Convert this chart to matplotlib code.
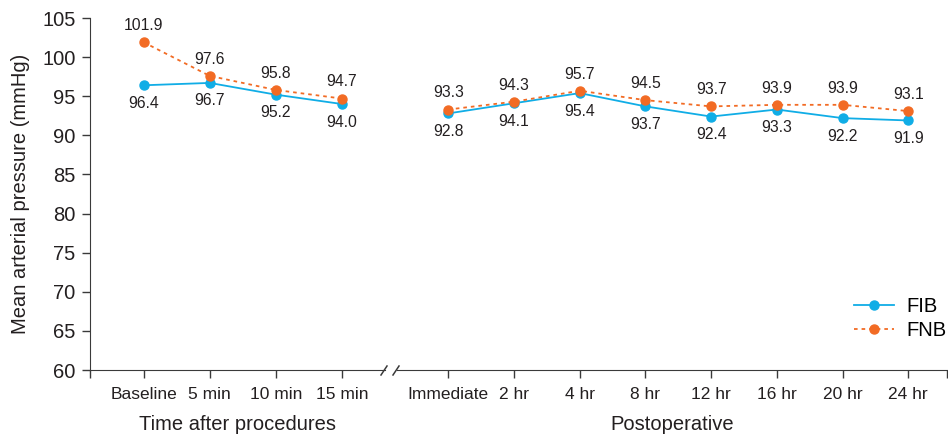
import matplotlib
matplotlib.use("Agg")
import matplotlib.pyplot as plt
from matplotlib.lines import Line2D

plt.rcParams['font.family'] = ['Liberation Sans', 'DejaVu Sans']

# data
left_labels = ["Baseline", "5 min", "10 min", "15 min"]
right_labels = ["Immediate", "2 hr", "4 hr", "8 hr", "12 hr", "16 hr", "20 hr", "24 hr"]
fib_left = [96.4, 96.7, 95.2, 94.0]
fnb_left = [101.9, 97.6, 95.8, 94.7]
fib_right = [92.8, 94.1, 95.4, 93.7, 92.4, 93.3, 92.2, 91.9]
fnb_right = [93.3, 94.3, 95.7, 94.5, 93.7, 93.9, 93.9, 93.1]

fib_color = "#10ADE6"
fnb_color = "#F26B24"
text_color = "#231F20"
W, H = 948, 437

fig = plt.figure(figsize=(W / 100, H / 100), dpi=100)
ax1 = fig.add_axes([90 / W, 1 - 370 / H, 295 / W, 352 / H])
ax2 = fig.add_axes([397 / W, 1 - 370 / H, 550 / W, 352 / H])


def draw(ax, labels, fib, fnb, xlim, edge_ticks):
    x = list(range(len(labels)))
    ax.plot(x, fib, color=fib_color, lw=1.3, marker='o', ms=6.5, label="FIB", zorder=3)
    ax.plot(x, fnb, color=fnb_color, lw=1.3, ls=(0, (2, 2.2)), marker='o', ms=6.5, label="FNB", zorder=4)
    for xi, a, b in zip(x, fib, fnb):
        ax.annotate(f"{a:.1f}", (xi, a), xytext=(0, -13), textcoords='offset points',
                    ha='center', va='center', fontsize=11.3, color=text_color)
        ax.annotate(f"{b:.1f}", (xi, b), xytext=(0, 12), textcoords='offset points',
                    ha='center', va='center', fontsize=11.3, color=text_color)
    ax.set_xlim(*xlim)
    ax.set_ylim(60, 105)
    ax.set_xticks(x)
    ax.set_xticklabels(labels)
    ax.set_xticks(edge_ticks, minor=True)
    ax.tick_params(axis='x', which='both', direction='out', length=5.5, width=1,
                   color='#3a3a3a', labelsize=12.5, labelcolor=text_color, pad=7)
    for s in ['top', 'right']:
        ax.spines[s].set_visible(False)
    ax.spines['bottom'].set_color('#3a3a3a')
    ax.spines['left'].set_color('#3a3a3a')


draw(ax1, left_labels, fib_left, fnb_left, (-0.81, 3.65), [-0.81])
draw(ax2, right_labels, fib_right, fnb_right, (-0.78, 7.59), [7.59])

ax1.set_yticks(range(60, 106, 5))
ax1.tick_params(axis='y', direction='out', length=5.5, width=1, color='#3a3a3a',
                labelsize=14.5, labelcolor=text_color, pad=5)
ax1.set_ylabel("Mean arterial pressure (mmHg)", fontsize=14.5, color=text_color, labelpad=9)
ax1.set_xlabel("Time after procedures", fontsize=14.5, color=text_color, labelpad=9)

ax2.spines['left'].set_visible(False)
ax2.tick_params(axis='y', left=False, labelleft=False)
ax2.set_xlabel("Postoperative", fontsize=14.5, color=text_color, labelpad=9)

ax2.legend(loc='lower right', bbox_to_anchor=(1.025, 0.045), frameon=False, fontsize=14.5,
           handlelength=2.0, handletextpad=0.6, labelspacing=0.25, borderpad=0.2)

# axis break marks
for px in (384, 396):
    fig.add_artist(Line2D([(px - 3) / W, (px + 3) / W], [1 - 375 / H, 1 - 366 / H],
                          color='#3a3a3a', lw=1.1))

fig.savefig("out.png", dpi=100)
